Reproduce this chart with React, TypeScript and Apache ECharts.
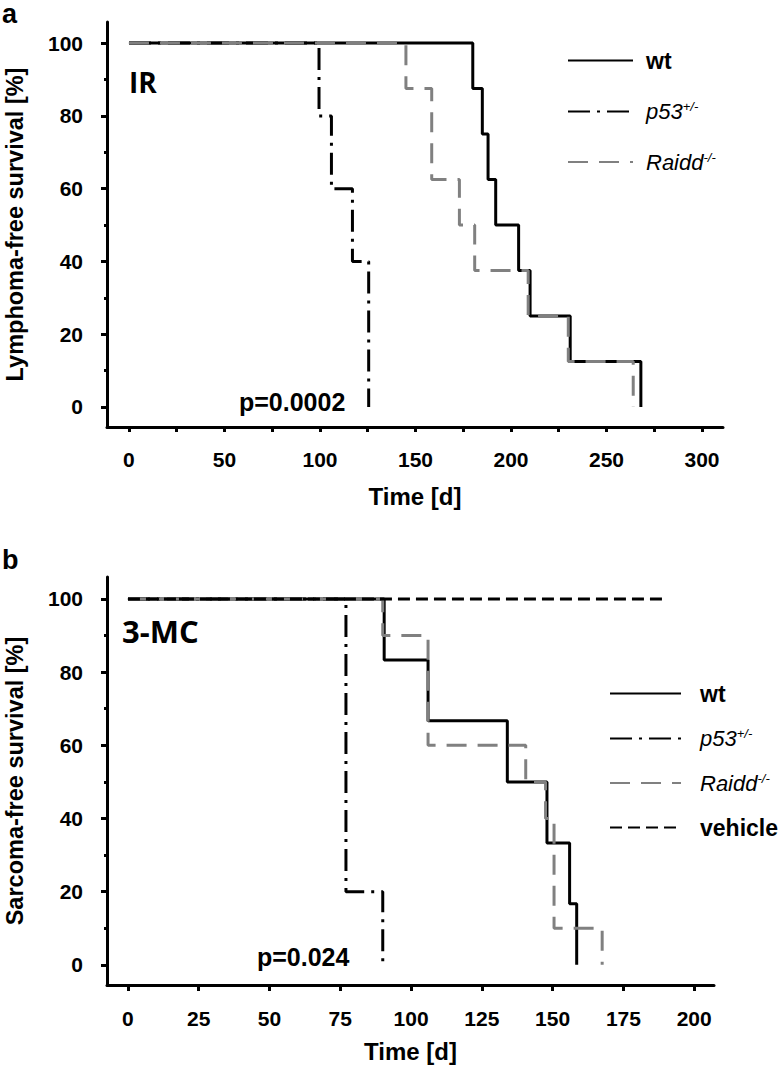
import React, { useEffect, useRef } from "react";
import * as echarts from "echarts";

const FONT = '"Liberation Sans", Arial, sans-serif';
const TITLE_FONT = '"Open Sans", "Liberation Sans", sans-serif';

// ---------- Panel a (IR, lymphoma) ----------
const aXTicks = [0, 50, 100, 150, 200, 250, 300];
const aXAllTicks = [0, 25, 50, 75, 100, 125, 150, 175, 200, 225, 250, 275, 300];
const aYTicks = [0, 20, 40, 60, 80, 100];
const aYMinor = [10, 30, 50, 70, 90];
const aWt = [[0, 100], [180, 87.5], [185, 75], [188, 62.5], [192, 50], [204, 37.5], [210, 25], [231, 12.5], [268, 0]];
const aP53 = [[0, 100], [99.5, 80], [106, 60], [117, 40], [125.5, 0]];
const aRaidd = [[0, 100], [145, 87.5], [158.5, 62.5], [173, 50], [181, 37.5], [209, 25], [230, 12.5], [264, 0]];

// ---------- Panel b (3-MC, sarcoma) ----------
const bXTicks = [0, 25, 50, 75, 100, 125, 150, 175, 200];
const bYTicks = [0, 20, 40, 60, 80, 100];
const bYMinor = [10, 30, 50, 70, 90];
const bWt = [[0, 100], [90.5, 83.3], [106, 66.7], [134, 50], [148, 33.3], [156, 16.7], [158.5, 0]];
const bP53 = [[0, 100], [77, 20], [90, 0]];
const bRaidd = [[0, 100], [90, 90], [106, 60], [140.5, 50], [147.5, 40], [150.5, 10], [167.5, 0]];
const bVehicle = [[0, 100], [190, 100]];

const legendA = ["wt", "p53+/-", "Raidd-/-"];
const legendB = ["wt", "p53+/-", "Raidd-/-", "vehicle"];

const STYLE: Record<string, any> = {
  "wt": { color: "#000", width: 3, type: "solid" },
  "p53+/-": { color: "#000", width: 3, type: [22, 7, 3, 7], cap: "butt" },
  "Raidd-/-": { color: "#808080", width: 3, type: [20, 11], cap: "butt" },
  "vehicle": { color: "#000", width: 3, type: [12, 6], cap: "butt" },
};

function mkSeries(name: string, data: number[][], idx: number) {
  return {
    type: "line",
    name,
    data,
    step: "end",
    symbol: "none",
    showSymbol: false,
    xAxisIndex: idx,
    yAxisIndex: idx * 2,
    lineStyle: STYLE[name],
    itemStyle: { color: STYLE[name].color },
  };
}

function mainX(grid: number, min: number, max: number, ticks: number[], labels: number[], tickLen: number, name: string, nameGap: number, margin: number) {
  return {
    type: "value",
    gridIndex: grid,
    min,
    max,
    position: "bottom",
    z: 10,
    name,
    nameLocation: "middle",
    nameGap,
    nameMoveOverlap: false,
    nameTextStyle: { fontFamily: FONT, fontWeight: "bold", fontSize: 24, color: "#000" },
    axisLine: { show: true, onZero: false, lineStyle: { color: "#000", width: 3 } },
    axisTick: { show: true, inside: false, customValues: ticks, length: tickLen, lineStyle: { color: "#000", width: 3 } },
    axisLabel: { show: true, customValues: labels, margin, fontFamily: FONT, fontWeight: "bold", fontSize: 21, color: "#000" },
    splitLine: { show: false },
  };
}

function mainY(grid: number, min: number, max: number, ticks: number[], name: string) {
  return {
    type: "value",
    gridIndex: grid,
    min,
    max,
    position: "left",
    z: 10,
    name,
    nameLocation: "middle",
    nameRotate: 90,
    nameGap: 80,
    nameMoveOverlap: false,
    nameTextStyle: { fontFamily: FONT, fontWeight: "bold", fontSize: 23.5, color: "#000" },
    axisLine: { show: true, onZero: false, lineStyle: { color: "#000", width: 3 } },
    axisTick: { show: true, inside: false, customValues: ticks, length: 6, lineStyle: { color: "#000", width: 3 } },
    axisLabel: { show: true, customValues: ticks, margin: 24, fontFamily: FONT, fontWeight: "bold", fontSize: 21, color: "#000" },
    splitLine: { show: false },
  };
}

function minorY(grid: number, min: number, max: number, ticks: number[]) {
  return {
    type: "value",
    gridIndex: grid,
    min,
    max,
    position: "left",
    axisLine: { show: false, onZero: false },
    axisTick: { show: true, customValues: ticks, length: 3, lineStyle: { color: "#000", width: 3 } },
    axisLabel: { show: false },
    splitLine: { show: false },
  };
}

const legendFormatter = (name: string) => {
  if (name === "p53+/-") return "{it|p53}{sup|+/-}";
  if (name === "Raidd-/-") return "{it|Raidd}{sup|-/-}";
  return "{n|" + name + "}";
};

const legendRich = {
  it: { fontFamily: FONT, fontStyle: "italic", fontSize: 22, color: "#000" },
  sup: { fontFamily: FONT, fontStyle: "italic", fontSize: 13, color: "#000", verticalAlign: "top", padding: [0, 0, 10, 0] },
  n: { fontFamily: FONT, fontWeight: "bold", fontSize: 23, color: "#000" },
};

function mkLegend(data: string[], left: number, top: number, itemWidth: number, itemGap: number, pad: number) {
  return {
    data,
    orient: "vertical",
    left,
    top,
    itemWidth,
    itemHeight: 24,
    itemGap,
    selectedMode: false,
    itemStyle: { opacity: 0 },
    formatter: legendFormatter,
    textStyle: { padding: [0, 0, 0, pad], rich: legendRich },
  };
}

export default function App() {
  const ref = useRef<HTMLDivElement>(null);
  useEffect(() => {
    if (!ref.current) return;
    const chart = echarts.init(ref.current, null, { renderer: "svg" });
    const option: any = {
      animation: false,
      backgroundColor: "#fff",
      grid: [
        { left: 107, top: 22, width: 616, height: 405, outerBoundsMode: "none", containLabel: false },
        { left: 107, top: 577, width: 607, height: 408, outerBoundsMode: "none", containLabel: false },
      ],
      xAxis: [
        mainX(0, -11.5, 311, aXAllTicks, aXTicks, 5, "Time [d]", 57, 22),
        mainX(1, -7.4, 207, bXTicks, bXTicks, 6, "Time [d]", 54, 23),
      ],
      yAxis: [
        mainY(0, -5.5, 105.8, aYTicks, "Lymphoma-free survival [%]"),
        minorY(0, -5.5, 105.8, aYMinor),
        mainY(1, -5.5, 106, bYTicks, "Sarcoma-free survival [%]"),
        minorY(1, -5.5, 106, bYMinor),
      ],
      legend: [
        mkLegend(legendA, 562, 44, 65, 28, 8),
        mkLegend(legendB, 604, 677, 71, 22, 14),
      ],
      series: [
        mkSeries("wt", aWt, 0),
        mkSeries("p53+/-", aP53, 0),
        mkSeries("Raidd-/-", aRaidd, 0),
        mkSeries("wt", bWt, 1),
        mkSeries("p53+/-", bP53, 1),
        mkSeries("Raidd-/-", bRaidd, 1),
        mkSeries("vehicle", bVehicle, 1),
      ],
      graphic: [
        { type: "text", left: 2, top: 0, style: { text: "a", font: `bold 27px ${FONT}`, fill: "#000" } },
        { type: "text", left: 2, top: 546, style: { text: "b", font: `bold 27px ${FONT}`, fill: "#000" } },
        { type: "text", x: 129, y: 82, style: { text: "IR", font: `bold 28px ${TITLE_FONT}`, fill: "#000", verticalAlign: "middle" } },
        { type: "text", x: 122, y: 631, style: { text: "3-MC", font: `bold 31px ${TITLE_FONT}`, fill: "#000", verticalAlign: "middle" } },
        { type: "text", x: 239, y: 402, style: { text: "p=0.0002", font: `bold 25px ${FONT}`, fill: "#000", verticalAlign: "middle" } },
        { type: "text", x: 257, y: 957, style: { text: "p=0.024", font: `bold 25px ${FONT}`, fill: "#000", verticalAlign: "middle" } },
      ],
    };
    chart.setOption(option);
    return () => chart.dispose();
  }, []);
  return <div ref={ref} style={{ position: "fixed", left: 0, top: 0, width: 783, height: 1075 }} />;
}
